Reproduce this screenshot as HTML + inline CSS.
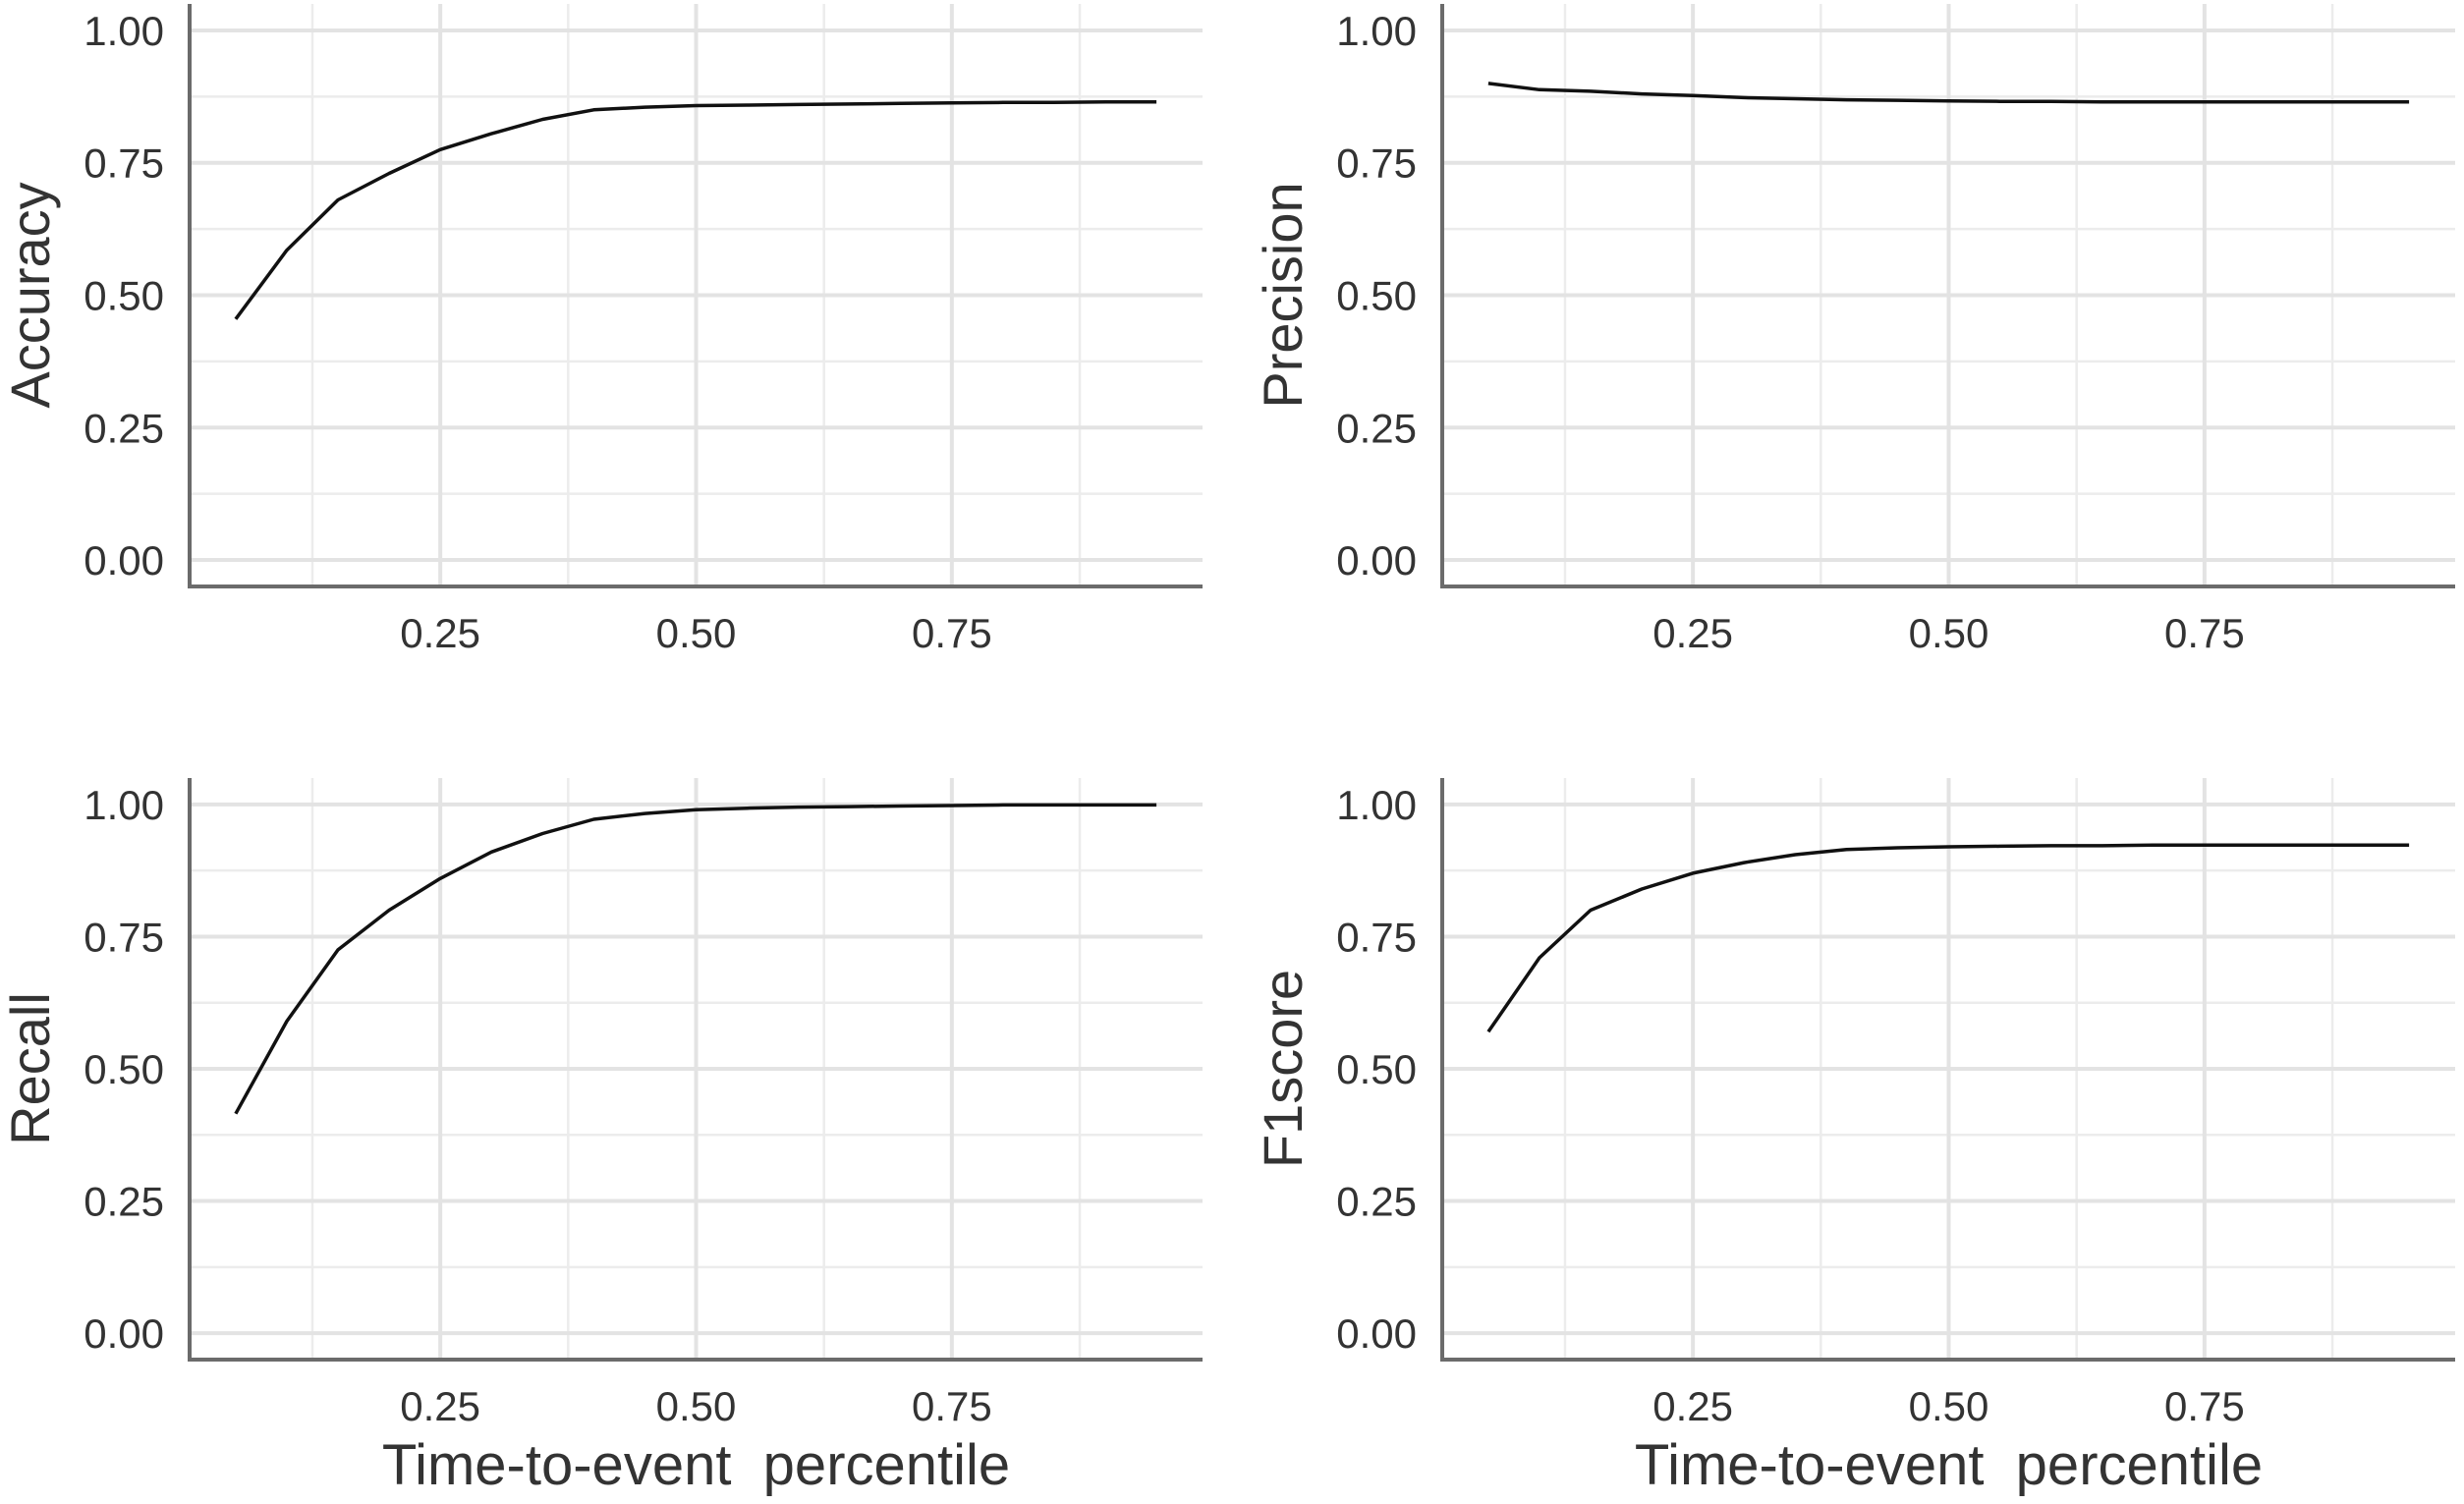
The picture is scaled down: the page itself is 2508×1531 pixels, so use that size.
<!DOCTYPE html>
<html><head><meta charset="utf-8"><style>
html,body{margin:0;padding:0;background:#fff;}
svg{display:block;}
text{font-family:"Liberation Sans",sans-serif;fill:#333;}
</style></head><body>
<svg id="chart" width="2508" height="1531" viewBox="0 0 2508 1531" xmlns="http://www.w3.org/2000/svg"></svg>
<script>
const xValues=[0.05,0.10,0.15,0.20,0.25,0.30,0.35,0.40,0.45,0.50,0.55,0.60,0.65,0.70,0.75,0.80,0.85,0.90,0.95];
const accuracy=[0.455,0.585,0.68,0.73,0.775,0.805,0.832,0.85,0.855,0.858,0.859,0.86,0.861,0.862,0.863,0.864,0.864,0.865,0.865];
const precision=[0.90,0.888,0.885,0.88,0.877,0.873,0.871,0.869,0.868,0.867,0.866,0.866,0.865,0.865,0.865,0.865,0.865,0.865,0.865];
const recall=[0.415,0.59,0.725,0.80,0.86,0.91,0.945,0.972,0.983,0.99,0.993,0.995,0.996,0.997,0.998,0.999,0.999,0.999,0.999];
const f1score=[0.57,0.71,0.80,0.84,0.87,0.89,0.905,0.915,0.918,0.92,0.921,0.922,0.922,0.923,0.923,0.923,0.923,0.923,0.923];
const yTicks=[0,0.25,0.5,0.75,1.0];
const yTickLabels=["0.00","0.25","0.50","0.75","1.00"];
const xTicks=[0.25,0.5,0.75];
const xTickLabels=["0.25","0.50","0.75"];
const panelTitles=["Accuracy","Precision","Recall","F1score"];

const NS="http://www.w3.org/2000/svg";
const svg=document.getElementById('chart');
function mk(tag,attrs,parent){const e=document.createElementNS(NS,tag);for(const k in attrs)e.setAttribute(k,attrs[k]);(parent||svg).appendChild(e);return e;}

const panels=[
 {x0:193,x1:1224,y0:4,y1:597,series:accuracy,title:panelTitles[0],xt:false},
 {x0:1468,x1:2499,y0:4,y1:597,series:precision,title:panelTitles[1],xt:false},
 {x0:193,x1:1224,y0:792,y1:1384,series:recall,title:panelTitles[2],xt:true},
 {x0:1468,x1:2499,y0:792,y1:1384,series:f1score,title:panelTitles[3],xt:true}
];
const xDom=[0.005,0.995], yDom=[-0.05,1.05];

panels.forEach((p,i)=>{
  const g=mk('g',{});
  
  
  const sx=v=>p.x0+(v-xDom[0])/(xDom[1]-xDom[0])*(p.x1-p.x0);
  const sy=v=>p.y1-(v-yDom[0])/(yDom[1]-yDom[0])*(p.y1-p.y0);
  for(let v=0.125;v<1;v+=0.25){
    const l=mk('line',{x1:p.x0,x2:p.x1,y1:sy(v),y2:sy(v),stroke:'#ececec','stroke-width':2.5},g);
    
    const l2=mk('line',{x1:sx(v),x2:sx(v),y1:p.y0,y2:p.y1,stroke:'#ececec','stroke-width':2.5},g);
    
  }
  yTicks.forEach((v,j)=>{
    const l=mk('line',{x1:p.x0,x2:p.x1,y1:sy(v),y2:sy(v),stroke:'#e3e3e3','stroke-width':4},g);
    
    const t=mk('text',{x:p.x0-26,y:sy(v)+15,'text-anchor':'end','font-size':42},g);
    t.textContent=yTickLabels[j];
    
  });
  xTicks.forEach((v,j)=>{
    const l=mk('line',{x1:sx(v),x2:sx(v),y1:p.y0,y2:p.y1,stroke:'#e3e3e3','stroke-width':4},g);
    
    const t=mk('text',{x:sx(v),y:p.y1+62,'text-anchor':'middle','font-size':42},g);
    t.textContent=xTickLabels[j];
    
  });
  const ax=mk('path',{d:`M${p.x0},${p.y0} L${p.x0},${p.y1} L${p.x1},${p.y1}`,fill:'none',stroke:'#6b6b6b','stroke-width':4},g);
  
  const d=p.series.map((v,k)=>(k?'L':'M')+sx(xValues[k]).toFixed(1)+','+sy(v).toFixed(1)).join(' ');
  const ln=mk('path',{d:d,fill:'none',stroke:'#111','stroke-width':3.5,'stroke-linejoin':'round'},g);
  
  const cy=(p.y0+p.y1)/2;
  const tt=mk('text',{x:0,y:0,'text-anchor':'middle','font-size':56,transform:`translate(${p.x0-143},${cy}) rotate(-90)`},g);
  tt.textContent=p.title;
  
  if(p.xt){
    const xt=mk('text',{x:sx(0.5),y:p.y1+127,'text-anchor':'middle','font-size':58},g);
    xt.textContent='Time-to-event  percentile';
    xt.style.whiteSpace='pre';
    
  }
});
</script>
</body></html>
